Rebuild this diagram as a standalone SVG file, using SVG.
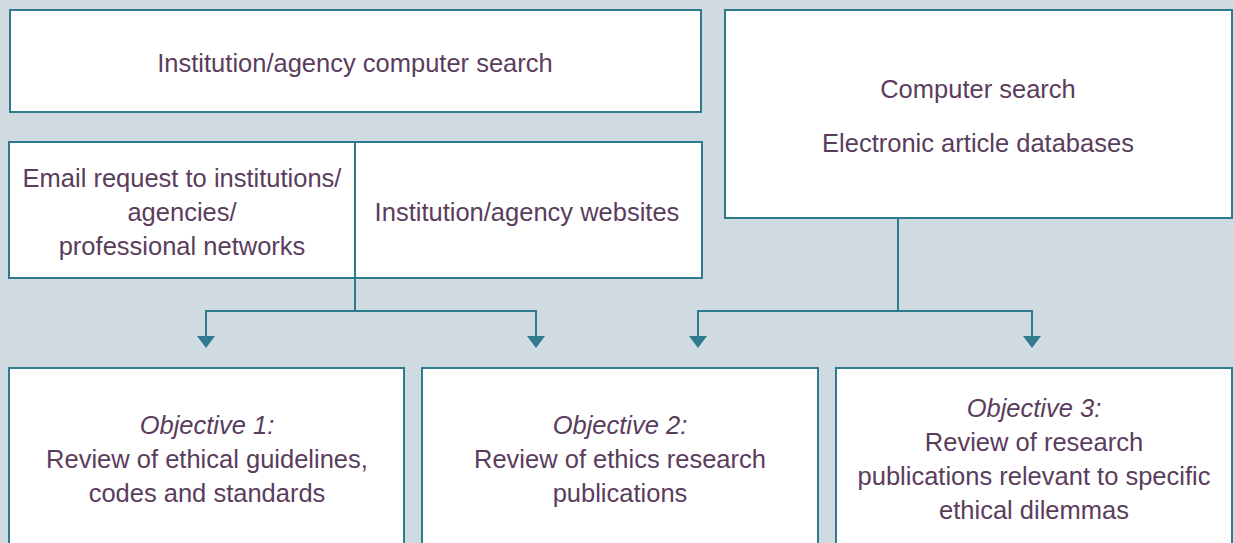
<svg xmlns="http://www.w3.org/2000/svg" width="1234" height="543" viewBox="0 0 1234 543">
<style>
.box{fill:#ffffff;stroke:#2e7a8e;stroke-width:2}
.t{font-family:"Liberation Sans",Arial,sans-serif;font-size:25.5px;fill:#5a3d5c;text-anchor:middle}
.i{font-style:italic}
.c{fill:none;stroke:#2e7a8e;stroke-width:2}
.ah{fill:#2e7a8e}
</style>
<rect width="1234" height="543" fill="#d0dbe1"/>
<g id="inst-search">
<rect class="box" x="10" y="10" width="691" height="102"/>
<text class="t" x="355" y="72">Institution/agency computer search</text>
</g>
<g id="email">
<rect class="box" x="9" y="142" width="346" height="136"/>
<text class="t" x="182" y="187">Email request to institutions/</text>
<text class="t" x="182" y="221">agencies/</text>
<text class="t" x="182" y="255">professional networks</text>
</g>
<g id="websites">
<rect class="box" x="355" y="142" width="347" height="136"/>
<text class="t" x="527" y="221">Institution/agency websites</text>
</g>
<g id="computer-search">
<rect class="box" x="725" y="10" width="507" height="208"/>
<text class="t" x="978" y="98">Computer search</text>
<text class="t" x="978" y="152">Electronic article databases</text>
</g>
<g id="connectors">
<path class="c" d="M355,278 V311"/>
<path class="c" d="M206,336 V311 H536 V336"/>
<path class="c" d="M898,218 V311"/>
<path class="c" d="M698,336 V311 H1032 V336"/>
<path class="ah" d="M197,336 L215,336 L206,348 Z"/>
<path class="ah" d="M527,336 L545,336 L536,348 Z"/>
<path class="ah" d="M689,336 L707,336 L698,348 Z"/>
<path class="ah" d="M1023,336 L1041,336 L1032,348 Z"/>
</g>
<g id="objective1">
<rect class="box" x="9" y="368" width="395" height="190"/>
<text class="t i" x="207" y="434">Objective 1:</text>
<text class="t" x="207" y="468">Review of ethical guidelines,</text>
<text class="t" x="207" y="502">codes and standards</text>
</g>
<g id="objective2">
<rect class="box" x="422" y="368" width="396" height="190"/>
<text class="t i" x="620" y="434">Objective 2:</text>
<text class="t" x="620" y="468">Review of ethics research</text>
<text class="t" x="620" y="502">publications</text>
</g>
<g id="objective3">
<rect class="box" x="836" y="368" width="396" height="190"/>
<text class="t i" x="1034" y="417">Objective 3:</text>
<text class="t" x="1034" y="451">Review of research</text>
<text class="t" x="1034" y="485">publications relevant to specific</text>
<text class="t" x="1034" y="519">ethical dilemmas</text>
</g>
</svg>
